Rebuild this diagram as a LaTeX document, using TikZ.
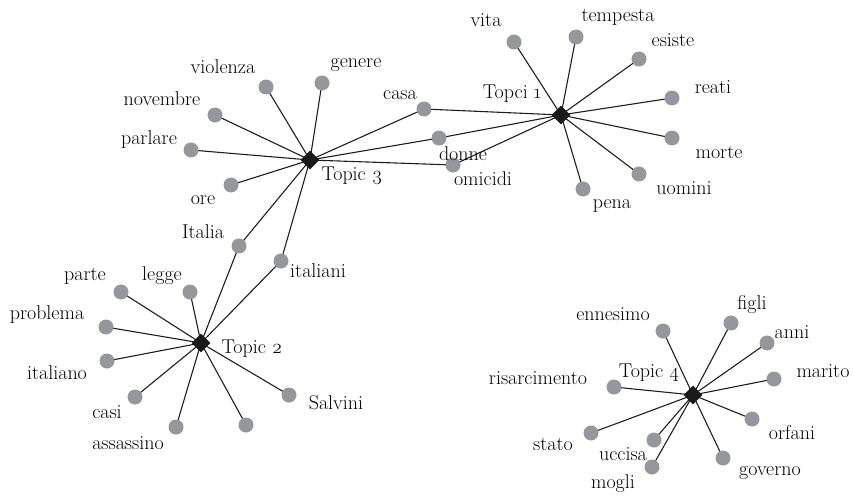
\documentclass[tikz,border=0pt]{standalone}
\usepackage{fontspec}
\setmainfont{Latin Modern Roman}
\usetikzlibrary{shapes.geometric,backgrounds}
\definecolor{dotgray}{RGB}{150,151,156}
\definecolor{edgecol}{RGB}{30,30,30}
\tikzset{
  x=1pt,y=-1pt,
  dot/.style={circle,fill=dotgray,draw=none,minimum size=15pt,inner sep=0pt},
  topic/.style={diamond,fill=black!90,draw=none,minimum width=19pt,minimum height=19pt,inner sep=0pt},
  lbl/.style={anchor=base,inner sep=0pt,font=\fontsize{20}{22}\selectfont,text=black},
  edge/.style={draw=edgecol,line width=1.1pt}
}
\begin{document}
\begin{tikzpicture}
\useasboundingbox (0,0) rectangle (853,495);
% topics
\node[topic] (t1) at (561,115) {};
\node[topic] (t2) at (201,343) {};
\node[topic] (t3) at (310,160) {};
\node[topic] (t4) at (693,395) {};
\node[lbl] (lt1) at (512,98) {Topci \oldstylenums{1}};
\node[lbl] (lt2) at (252,353) {Topic \oldstylenums{2}};
\node[lbl] (lt3) at (352,180) {Topic \oldstylenums{3}};
\node[lbl] (lt4) at (649,377) {Topic \oldstylenums{4}};
% topic 3 dots
\node[dot] (violenza) at (266,87) {};
\node[dot] (genere) at (322,83) {};
\node[dot] (casa) at (424,109) {};
\node[dot] (novembre) at (215,115) {};
\node[dot] (parlare) at (191,150) {};
\node[dot] (ore) at (231,185) {};
\node[dot] (Italia) at (239,246) {};
\node[dot] (italiani) at (281,261) {};
\node[dot] (donne) at (439,138) {};
\node[dot] (omicidi) at (453,165) {};
% topic 1 dots
\node[dot] (vita) at (514,42) {};
\node[dot] (tempesta) at (576,37) {};
\node[dot] (esiste) at (639,59) {};
\node[dot] (reati) at (672,98) {};
\node[dot] (morte) at (672,138) {};
\node[dot] (uomini) at (639,174) {};
\node[dot] (pena) at (583,189) {};
% topic 2 dots
\node[dot] (parte) at (121,292) {};
\node[dot] (legge) at (190,292) {};
\node[dot] (problema) at (106,327) {};
\node[dot] (italiano) at (107,361) {};
\node[dot] (casi) at (135,397) {};
\node[dot] (assassino) at (176,427) {};
\node[dot] (nolabel) at (246,425) {};
\node[dot] (Salvini) at (289,395) {};
% topic 4 dots
\node[dot] (ennesimo) at (663,331) {};
\node[dot] (figli) at (731,323) {};
\node[dot] (anni) at (767,343) {};
\node[dot] (marito) at (774,379) {};
\node[dot] (risarcimento) at (614,387) {};
\node[dot] (stato) at (591,433) {};
\node[dot] (uccisa) at (654,440) {};
\node[dot] (mogli) at (652,467) {};
\node[dot] (orfani) at (752,419) {};
\node[dot] (governo) at (723,458) {};
% labels
\node[lbl] (l-violenza) at (223,74) {violenza};
\node[lbl] (l-genere) at (356,67) {genere};
\node[lbl] (l-casa) at (400,99) {casa};
\node[lbl] (l-novembre) at (162,105) {novembre};
\node[lbl] (l-parlare) at (149,144) {parlare};
\node[lbl] (l-ore) at (203,204) {ore};
\node[lbl] (l-Italia) at (203,238) {Italia};
\node[lbl] (l-italiani) at (318,277) {italiani};
\node[lbl] (l-donne) at (463,160) {donne};
\node[lbl] (l-omicidi) at (483,185) {omicidi};
\node[lbl] (l-vita) at (486,27) {vita};
\node[lbl] (l-tempesta) at (618,22) {tempesta};
\node[lbl] (l-esiste) at (673,47) {esiste};
\node[lbl] (l-reati) at (713,93) {reati};
\node[lbl] (l-morte) at (719,158) {morte};
\node[lbl] (l-uomini) at (684,194) {uomini};
\node[lbl] (l-pena) at (612,208) {pena};
\node[lbl] (l-parte) at (85,280) {parte};
\node[lbl] (l-legge) at (162,280) {legge};
\node[lbl] (l-problema) at (47,319) {problema};
\node[lbl] (l-italiano) at (57,379) {italiano};
\node[lbl] (l-casi) at (107,418) {casi};
\node[lbl] (l-assassino) at (128,449) {assassino};
\node[lbl] (l-Salvini) at (336,409) {Salvini};
\node[lbl] (l-ennesimo) at (613,320) {ennesimo};
\node[lbl] (l-figli) at (752,309) {figli};
\node[lbl] (l-anni) at (792,338) {anni};
\node[lbl] (l-marito) at (823,377) {marito};
\node[lbl] (l-risarcimento) at (538,384) {risarcimento};
\node[lbl] (l-stato) at (553,450) {stato};
\node[lbl] (l-uccisa) at (623,460) {uccisa};
\node[lbl] (l-mogli) at (613,488) {mogli};
\node[lbl] (l-orfani) at (792,439) {orfani};
\node[lbl] (l-governo) at (770,475) {governo};
% edges
\begin{scope}[on background layer]
\foreach \w in {violenza,genere,casa,novembre,parlare,ore,Italia,italiani,donne,omicidi}
  \path[edge] (t3.center) -- (\w.center);
\foreach \w in {vita,tempesta,esiste,reati,morte,uomini,pena,casa,donne,omicidi}
  \path[edge] (t1.center) -- (\w.center);
\foreach \w in {parte,legge,problema,italiano,casi,assassino,nolabel,Salvini,Italia,italiani}
  \path[edge] (t2.center) -- (\w.center);
\foreach \w in {ennesimo,figli,anni,marito,risarcimento,stato,uccisa,mogli,orfani,governo}
  \path[edge] (t4.center) -- (\w.center);
\end{scope}
\end{tikzpicture}
\end{document}
